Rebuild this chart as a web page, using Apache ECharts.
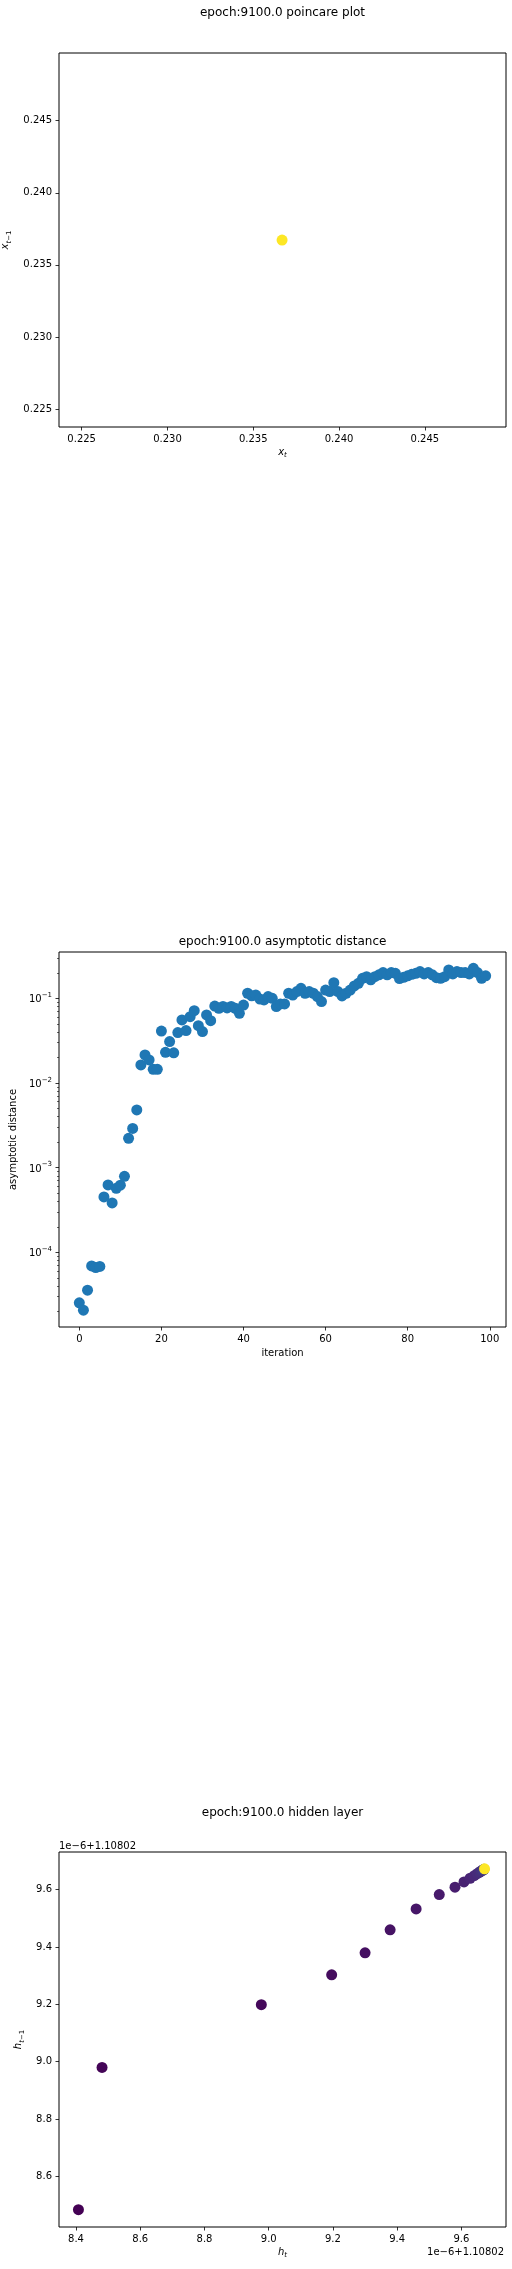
<!DOCTYPE html>
<html><head><meta charset="utf-8">
<script src="https://cdn.jsdelivr.net/npm/echarts@6/dist/echarts.min.js"></script>
<style>html,body{margin:0;padding:0;background:#fff}#c{width:512px;height:2269px}</style>
</head><body><div id="c"></div><script>
// ---- data ----
const poincareX = [0.23668];
const poincareY = [0.23672];
const poincareTicks = [0.225, 0.230, 0.235, 0.240, 0.245];

const iterations = Array.from({length: 100}, (_, i) => i);
const asymDist = [
  2.53e-5, 2.07e-5, 3.57e-5, 6.9e-5, 6.6e-5, 6.8e-5, 4.5e-4, 6.25e-4, 3.83e-4, 5.7e-4,
  6.2e-4, 7.9e-4, 2.22e-3, 2.9e-3, 4.8e-3, 0.0163, 0.0214, 0.0187, 0.0145, 0.0145,
  0.041, 0.023, 0.0308, 0.0227, 0.0393, 0.0555, 0.0415, 0.0607, 0.0714, 0.0475,
  0.0404, 0.0636, 0.0544, 0.081, 0.076, 0.080, 0.077, 0.080, 0.076, 0.0665,
  0.083, 0.1146, 0.107, 0.109, 0.098, 0.0955, 0.1047, 0.100, 0.0798, 0.0857,
  0.0857, 0.1146, 0.109, 0.120, 0.131, 0.1146, 0.120, 0.1146, 0.1047, 0.0914,
  0.125, 0.120, 0.153, 0.120, 0.1066, 0.1146, 0.125, 0.140, 0.150, 0.172,
  0.180, 0.165, 0.180, 0.189, 0.201, 0.189, 0.201, 0.197, 0.171, 0.177,
  0.184, 0.192, 0.197, 0.207, 0.194, 0.201, 0.189, 0.175, 0.172, 0.180,
  0.216, 0.194, 0.207, 0.201, 0.201, 0.194, 0.226, 0.201, 0.172, 0.184
];
const iterTicks = [0, 20, 40, 60, 80, 100];
const distTicks = [1e-4, 1e-3, 1e-2, 1e-1];
const distMinorTicks = [
  2e-5, 3e-5, 4e-5, 5e-5, 6e-5, 7e-5, 8e-5, 9e-5,
  2e-4, 3e-4, 4e-4, 5e-4, 6e-4, 7e-4, 8e-4, 9e-4,
  2e-3, 3e-3, 4e-3, 5e-3, 6e-3, 7e-3, 8e-3, 9e-3,
  2e-2, 3e-2, 4e-2, 5e-2, 6e-2, 7e-2, 8e-2, 9e-2,
  2e-1, 3e-1
];

// hidden layer values, in units of 1e-6 above 1.10802
const hiddenStep  = [0, 1, 2, 3, 4, 5, 6, 7, 8, 9, 10, 11, 12, 13, 14, 15, 16, 17, 18, 99];
const hiddenHt    = [8.4075, 8.481, 8.977, 9.196, 9.300, 9.378, 9.459, 9.531, 9.580, 9.608,
                     9.627, 9.640, 9.649, 9.656, 9.661, 9.665, 9.667, 9.669, 9.670, 9.672];
const hiddenHprev = [8.484, 8.980, 9.199, 9.303, 9.380, 9.460, 9.533, 9.583, 9.609, 9.627,
                     9.640, 9.649, 9.656, 9.661, 9.665, 9.667, 9.669, 9.670, 9.671, 9.673];
const hiddenTicksX = [8.4, 8.6, 8.8, 9.0, 9.2, 9.4, 9.6];
const hiddenTicksY = [8.6, 8.8, 9.0, 9.2, 9.4, 9.6];
const hiddenOffset = '1e\u22126+1.10802';

const titles = ['epoch:9100.0 poincare plot', 'epoch:9100.0 asymptotic distance', 'epoch:9100.0 hidden layer'];

// ---- chart ----
const FONT = "'DejaVu Sans', sans-serif";
const viridis = ['#440154','#482878','#3e4989','#31688e','#26828e','#1f9e89','#35b779','#6ece58','#b5de2b','#fde725'];
const tickStyle = {color: '#000', width: 0.8};

function nameRich() {
  return {
    i: {fontFamily: FONT, fontSize: 10, fontStyle: 'italic', color: '#000', verticalAlign: 'top'},
    sub: {fontFamily: FONT, fontSize: 7, fontStyle: 'italic', color: '#000', verticalAlign: 'bottom', padding: [5, 0, 0, 0]},
    subr: {fontFamily: FONT, fontSize: 7, color: '#000', verticalAlign: 'bottom', padding: [5, 0, 0, 0]}
  };
}

function valAxis(gridIndex, min, max, ticks, digits, extra) {
  return Object.assign({
    type: 'value', gridIndex, min, max,
    axisLine: {show: false, onZero: false},
    axisTick: {show: true, length: 3.5, lineStyle: tickStyle, customValues: ticks},
    axisLabel: {show: true, margin: 7, customValues: ticks, color: '#000', fontFamily: FONT, fontSize: 10,
      formatter: v => v.toFixed(digits)},
    splitLine: {show: false},
    nameLocation: 'middle'
  }, extra);
}

const gridBase = {left: 59, width: 447, height: 375, show: true, borderColor: '#000', borderWidth: 1,
  backgroundColor: 'transparent', containLabel: false, outerBoundsMode: 'none'};

const option = {
  animation: false,
  backgroundColor: '#fff',
  grid: [
    Object.assign({}, gridBase, {top: 53, height: 374}),
    Object.assign({}, gridBase, {top: 952}),
    Object.assign({}, gridBase, {top: 1852})
  ],
  xAxis: [
    valAxis(0, 0.22368, 0.24973, poincareTicks, 3, {
      name: '{i|x}{sub|t}', nameGap: 20, nameTextStyle: {rich: nameRich()}}),
    valAxis(1, -4.95, 103.95, iterTicks, 0, {
      name: 'iteration', nameGap: 21, nameTextStyle: {color: '#000', fontFamily: FONT, fontSize: 10}}),
    valAxis(2, 8.347, 9.7388, hiddenTicksX, 1, {
      name: '{i|h}{sub|t}', nameGap: 20, nameTextStyle: {rich: nameRich()}})
  ],
  yAxis: [
    valAxis(0, 0.22375, 0.2497, poincareTicks, 3, {
      name: '{i|x}{sub|t}{subr|\u22121}', nameGap: 40, nameTextStyle: {rich: nameRich()}}),
    {
      type: 'log', logBase: 10, gridIndex: 1, min: 1.31e-5, max: 0.352, position: 'left', offset: 0,
      axisLine: {show: false, onZero: false},
      axisTick: {show: true, length: 3.5, lineStyle: tickStyle, customValues: distTicks},
      axisLabel: {show: true, margin: 7, customValues: distTicks,
        formatter: v => '{b|10}{s|\u2212' + Math.abs(Math.round(Math.log10(v))) + '}',
        rich: {
          b: {fontFamily: FONT, fontSize: 10, color: '#000', verticalAlign: 'bottom'},
          s: {fontFamily: FONT, fontSize: 7, color: '#000', verticalAlign: 'top', padding: [0, 0, 6, 0]}
        }},
      splitLine: {show: false},
      name: 'asymptotic distance', nameLocation: 'middle', nameGap: 38,
      nameTextStyle: {color: '#000', fontFamily: FONT, fontSize: 10}
    },
    valAxis(2, 8.4234, 9.7316, hiddenTicksY, 1, {
      name: '{i|h}{sub|t}{subr|\u22121}', nameGap: 28, nameTextStyle: {rich: nameRich()}}),
    {
      type: 'log', logBase: 10, gridIndex: 1, min: 1.31e-5, max: 0.352, position: 'left', offset: 0,
      axisLine: {show: false, onZero: false},
      axisTick: {show: true, length: 2, lineStyle: {color: '#000', width: 0.6}, customValues: distMinorTicks},
      axisLabel: {show: false},
      splitLine: {show: false}
    }
  ],
  visualMap: [{
    type: 'continuous', show: false, seriesIndex: 2, dimension: 2, min: 0, max: 99,
    inRange: {color: viridis}
  }],
  graphic: [
    {type: 'text', x: 282.5, y: 13, style: {text: titles[0], align: 'center', verticalAlign: 'middle', font: '12px ' + FONT, fill: '#000'}},
    {type: 'text', x: 282.5, y: 942, style: {text: titles[1], align: 'center', verticalAlign: 'middle', font: '12px ' + FONT, fill: '#000'}},
    {type: 'text', x: 282.5, y: 1813, style: {text: titles[2], align: 'center', verticalAlign: 'middle', font: '12px ' + FONT, fill: '#000'}},
    {type: 'text', x: 59, y: 1846, style: {text: hiddenOffset, align: 'left', verticalAlign: 'middle', font: '10px ' + FONT, fill: '#000'}},
    {type: 'text', x: 504, y: 2252, style: {text: hiddenOffset, align: 'right', verticalAlign: 'middle', font: '10px ' + FONT, fill: '#000'}}
  ],
  series: [
    {
      type: 'scatter', xAxisIndex: 0, yAxisIndex: 0, symbolSize: 11,
      itemStyle: {color: '#fde725', opacity: 1},
      emphasis: {disabled: true},
      data: poincareX.map((x, i) => [x, poincareY[i]])
    },
    {
      type: 'scatter', xAxisIndex: 1, yAxisIndex: 1, symbolSize: 11,
      itemStyle: {color: '#1f77b4', opacity: 1},
      emphasis: {disabled: true},
      data: iterations.map((it, i) => [it, asymDist[i]])
    },
    {
      type: 'scatter', xAxisIndex: 2, yAxisIndex: 2, symbolSize: 11,
      itemStyle: {opacity: 1},
      emphasis: {disabled: true},
      data: hiddenHt.map((x, i) => [x, hiddenHprev[i], hiddenStep[i]])
    }
  ]
};

const chart = echarts.init(document.getElementById('c'), null, {renderer: 'canvas', width: 512, height: 2269});
chart.setOption(option);
</script></body></html>
